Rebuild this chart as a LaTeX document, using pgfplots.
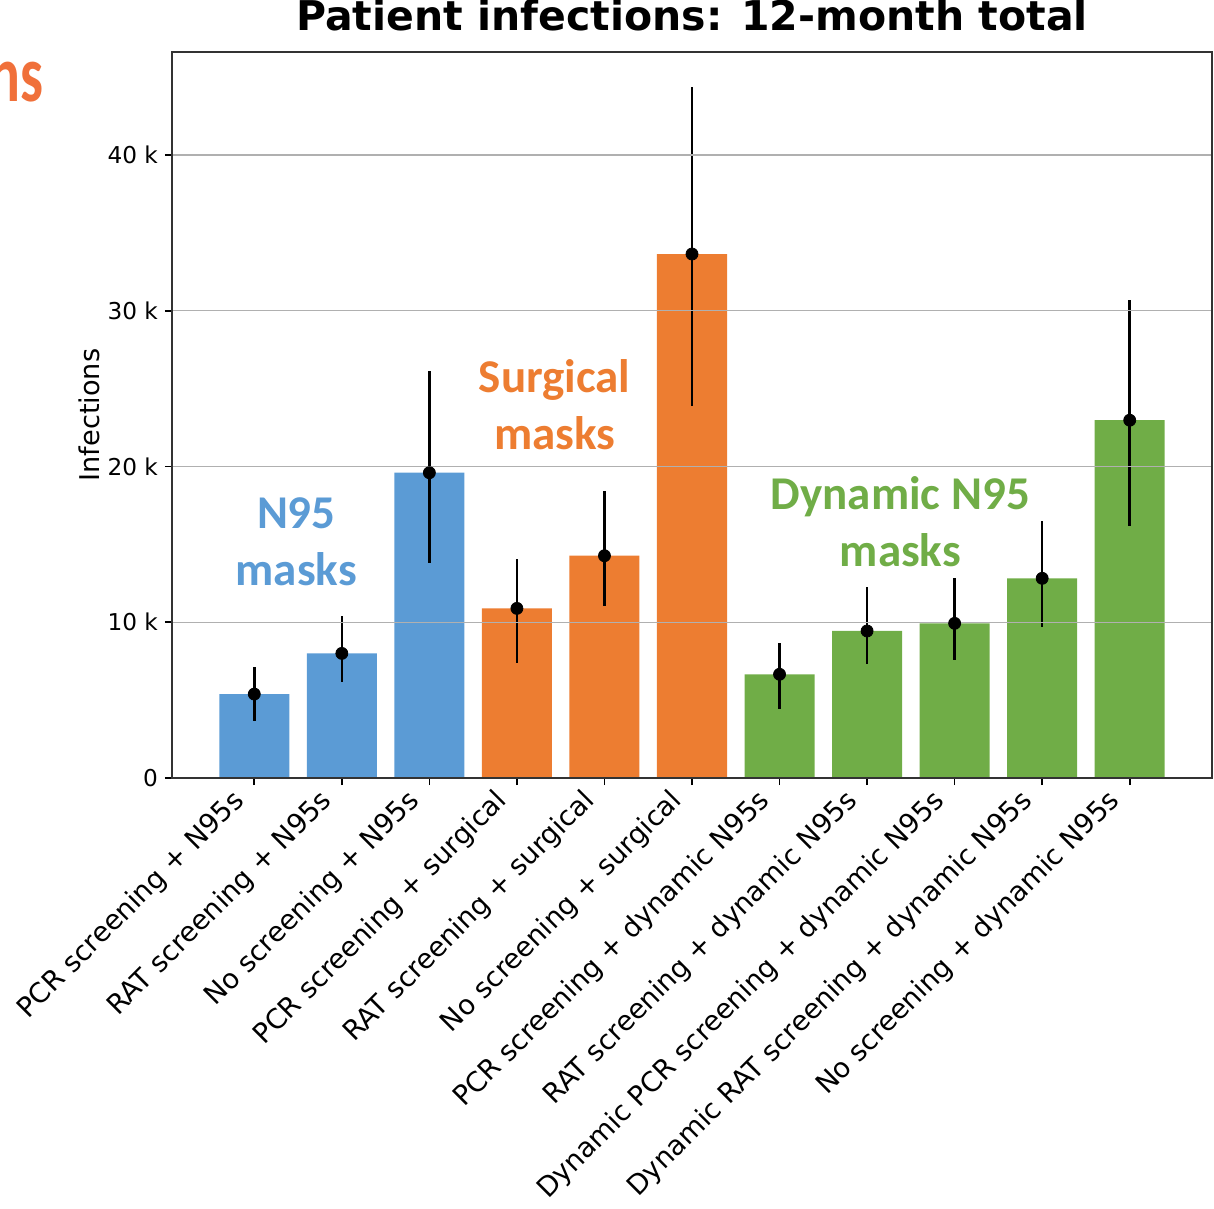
\documentclass[border=0pt]{standalone}
\usepackage{pgfplots}
\pgfplotsset{compat=1.18}
\usepackage{pgfplotstable}
\usepackage{fontspec}
\setmainfont{DejaVu Sans}
\newfontfamily\carlito{Carlito}
\definecolor{cblue}{HTML}{5B9BD5}
\definecolor{corange}{HTML}{ED7D31}
\definecolor{cgreen}{HTML}{70AD47}
\definecolor{slideorange}{HTML}{F0703A}
\definecolor{gridgray}{HTML}{B0B0B0}

\pgfplotstableread{
x y
0 5390
1 8000
2 19600
}\nnfive
\pgfplotstableread{
x y
3 10890
4 14270
5 33640
}\surgical
\pgfplotstableread{
x y
6 6660
7 9440
8 9930
9 12820
10 22970
}\dynamic
\pgfplotstableread{
x y ep em
0 5390 1750 1720
1 8000 2400 1820
2 19600 6550 5780
3 10890 3150 3490
4 14270 4180 3230
5 33640 10730 9760
6 6660 1980 2200
7 9440 2840 2120
8 9930 2890 2350
9 12820 3660 3110
10 22970 7690 6790
}\alldata

\begin{document}
\begin{tikzpicture}
\begin{axis}[
name=ax,
scale only axis,
width=520pt, height=363pt,
xmin=-0.94, xmax=10.94,
ymin=0, ymax=46610,
clip=false,
axis on top,
xtick={0,...,10},
xticklabels={PCR screening + N95s, RAT screening + N95s, No screening + N95s,
  PCR screening + surgical, RAT screening + surgical, No screening + surgical,
  PCR screening + dynamic N95s, RAT screening + dynamic N95s,
  Dynamic PCR screening + dynamic N95s, Dynamic RAT screening + dynamic N95s,
  No screening + dynamic N95s},
ytick={0,10000,20000,30000,40000},
yticklabels={0,10 k,20 k,30 k,40 k},
scaled y ticks=false,
/pgf/number format/assume math mode=true,
xtick pos=bottom, ytick pos=left,
tick align=outside,
major tick length=3.5pt,
tick style={black, line width=0.8pt},
axis line style={black!80, line width=0.8pt},
ymajorgrids,
grid style={gridgray, line width=0.7pt},
xticklabel style={font=\fontsize{13.7}{16}\selectfont, xshift=-2pt, yshift=-6pt, rotate=45, anchor=base east},
yticklabel style={font=\fontsize{11.6}{14}\selectfont},
title={Patient infections: 12-month total},
title style={font=\bfseries\fontsize{20.5}{24}\selectfont, at={(axis description cs:0.5,1)}, anchor=base, yshift=5pt},
ylabel={Infections},
ylabel style={font=\fontsize{13.6}{16}\selectfont, at={(axis description cs:-0.079,0.5)}, anchor=center},
]
\addplot[ybar, bar width=0.8, bar shift=0, fill=cblue, draw=none] table[x=x, y=y] {\nnfive};
\addplot[ybar, bar width=0.8, bar shift=0, fill=corange, draw=none] table[x=x, y=y] {\surgical};
\addplot[ybar, bar width=0.8, bar shift=0, fill=cgreen, draw=none] table[x=x, y=y] {\dynamic};
\addplot[only marks, mark=*, mark size=3pt, black,
  error bars/.cd, y dir=both, y explicit, error mark=none,
  error bar style={line width=1.3pt, black}]
  table[x=x, y=y, y error plus=ep, y error minus=em] {\alldata};

\node[anchor=base, text=cblue, font=\carlito\bfseries\fontsize{23.5}{28}\selectfont] at (axis cs:0.48,16050) {N95};
\node[anchor=base, text=cblue, font=\carlito\bfseries\fontsize{23.5}{28}\selectfont] at (axis cs:0.48,12390) {masks};
\node[anchor=base, text=corange, font=\carlito\bfseries\fontsize{23.5}{28}\selectfont] at (axis cs:3.43,24720) {Surgical};
\node[anchor=base, text=corange, font=\carlito\bfseries\fontsize{23.5}{28}\selectfont] at (axis cs:3.43,21060) {masks};
\node[anchor=base, text=cgreen, font=\carlito\bfseries\fontsize{23.5}{28}\selectfont] at (axis cs:7.38,17210) {Dynamic N95};
\node[anchor=base, text=cgreen, font=\carlito\bfseries\fontsize{23.5}{28}\selectfont] at (axis cs:7.38,13550) {masks};
\node[anchor=base east, xscale=0.72, text=slideorange, font=\carlito\bfseries\fontsize{40}{48}\selectfont] at (axis description cs:-0.119,0.932) {ns};
\end{axis}
\pgfresetboundingbox
\path[use as bounding box] ([shift={(-86pt,-215pt)}]ax.south west) rectangle ([shift={(1pt,26pt)}]ax.north east);
\end{tikzpicture}
\end{document}
